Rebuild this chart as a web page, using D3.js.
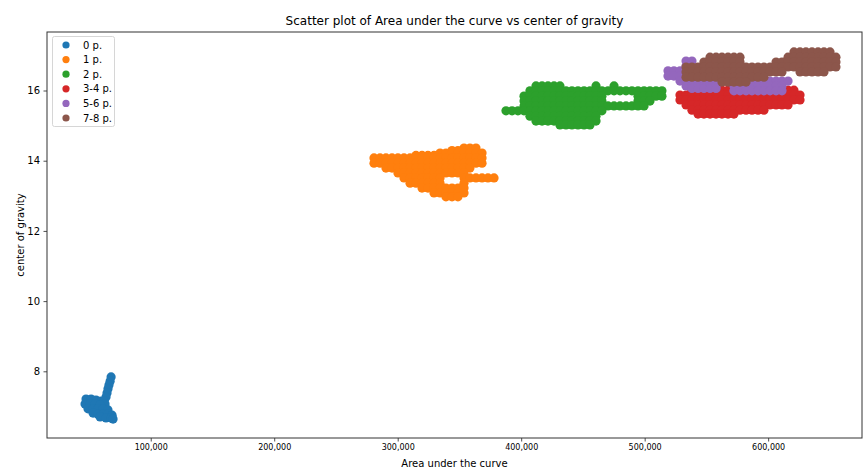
<!DOCTYPE html>
<html><head><meta charset="utf-8">
<script src="https://cdn.jsdelivr.net/npm/d3@7"></script>
<style>body{margin:0;background:#fff} text{font-family:"DejaVu Sans",sans-serif;fill:#000}</style>
</head><body><svg id="c" width="864" height="469"></svg>
<script>
const seriesNames = ["0 p.", "1 p.", "2 p.", "3-4 p.", "5-6 p.", "7-8 p."];
const seriesColors = ["#1f77b4", "#ff7f0e", "#2ca02c", "#d62728", "#9467bd", "#8c564b"];
const xTicks = [100000, 200000, 300000, 400000, 500000, 600000];
const yTicks = [8, 10, 12, 14, 16];

// each row: [center of gravity, [area under the curve values...]]
const p0 = [
  [7.84, [67900]], [7.72, [67100]], [7.61, [66200]], [7.50, [65400]], [7.38, [64600]], [7.27, [63800]],
  [7.21, [47600, 51700]], [7.18, [55700]], [7.15, [59800, 62200]],
  [7.07, [46800, 50900, 54900, 63000]], [7.04, [59000]],
  [6.93, [49200, 53300, 57300, 61400]], [6.90, [65400]],
  [6.81, [53300]], [6.78, [57300, 61400, 65400]], [6.75, [68700]],
  [6.70, [59000]], [6.67, [63800, 67900]], [6.64, [69500]]
];
const p1 = [
  [14.36, [353700, 358500, 363400]],
  [14.29, [344000, 348800]],
  [14.22, [334300, 339100, 344000, 348800, 353700, 358500, 363400, 368300]],
  [14.15, [314800, 319700, 324500, 329400]],
  [14.08, [280800, 285700, 290500, 295400, 300200, 305100, 310000, 314800, 319700, 324500, 329400, 334300, 339100, 344000, 348800, 353700, 358500, 363400, 368300]],
  [13.93, [280800, 285700, 290500, 295400, 300200, 305100, 310000, 314800, 319700, 324500, 329400, 334300, 339100, 344000, 348800, 353700, 358500, 363400, 368300]],
  [13.79, [290500, 295400, 300200, 305100, 310000, 314800, 319700, 324500, 329400, 334300, 339100, 344000, 348800, 353700, 358500]],
  [13.65, [300200, 305100, 310000, 314800, 319700, 324500, 329400, 334300, 339100, 344000, 348800, 353700]],
  [13.51, [305100, 310000, 314800, 319700, 324500, 329400, 334300, 353700, 358500, 363400, 368300, 373100, 378000]],
  [13.36, [310000, 314800, 319700, 324500, 329400, 334300, 353700]],
  [13.22, [319700, 324500, 329400, 334300, 339100, 344000, 348800, 353700]],
  [13.08, [329400, 334300, 339100, 344000, 348800, 353700]],
  [12.97, [339100, 344000, 348800]]
];
const p2 = [
  [16.13, [412000, 416900, 421700, 426600, 431400, 460600, 475200]],
  [15.99, [407100, 412000, 416900, 421700, 426600, 431400, 436300, 441100, 446000, 450900, 455700, 460600, 465400, 470300, 475200, 480000, 484900, 489700, 494600, 499500, 504300, 509200, 514000]],
  [15.84, [402300, 407100, 412000, 416900, 421700, 426600, 431400, 436300, 441100, 446000, 450900, 455700, 460600, 465400, 494600, 499500, 504300, 509200, 514000]],
  [15.70, [402300, 407100, 412000, 416900, 421700, 426600, 431400, 436300, 441100, 446000, 450900, 455700, 460600, 465400, 494600, 499500, 504300]],
  [15.56, [402300, 407100, 412000, 416900, 421700, 426600, 431400, 436300, 441100, 446000, 450900, 455700, 460600, 465400, 470300, 475200, 480000, 484900, 489700, 494600, 499500]],
  [15.42, [387700, 392600, 397400, 402300, 407100, 412000, 416900, 421700, 426600, 431400, 436300, 441100, 446000, 450900, 455700, 460600, 465400]],
  [15.27, [407100, 412000, 416900, 421700, 426600, 431400, 436300, 441100, 446000, 450900, 455700, 460600]],
  [15.13, [412000, 416900, 421700, 426600, 431400, 436300, 441100, 446000, 450900, 455700, 460600]],
  [15.02, [431400, 436300, 441100, 446000, 450900, 455700]]
];
const p34 = [
  [16.01, [538300, 543200, 548000, 552900, 557800, 562600, 567500, 601500, 606400, 611200, 616100, 620900]],
  [15.87, [528600, 533500, 538300, 543200, 548000, 552900, 557800, 562600, 567500, 572300, 577200, 582100, 586900, 591800, 596600, 601500, 606400, 611200, 616100, 620900, 625800]],
  [15.73, [528600, 533500, 538300, 543200, 548000, 552900, 557800, 562600, 567500, 572300, 577200, 582100, 586900, 591800, 596600, 601500, 606400, 611200, 616100, 620900, 625800]],
  [15.59, [533500, 538300, 543200, 548000, 552900, 557800, 562600, 567500, 572300, 577200, 582100, 586900, 591800, 596600, 601500, 606400, 611200, 616100]],
  [15.44, [538300, 543200, 548000, 552900, 557800, 562600, 567500, 572300, 577200, 582100, 586900, 591800, 596600]],
  [15.33, [543200, 548000, 552900, 557800, 562600, 567500, 572300]]
];
const p56 = [
  [16.84, [533500, 538300]],
  [16.70, [533500, 538300]],
  [16.56, [518900, 523700, 528600, 533500, 538300, 543200]],
  [16.41, [518900, 523700, 528600, 533500, 538300, 543200, 548000]],
  [16.27, [528600, 533500, 538300, 543200, 548000, 552900, 557800, 562600, 567500, 572300, 577200, 582100, 586900, 591800, 596600, 601500, 606400, 611200, 616100]],
  [16.13, [533500, 538300, 543200, 548000, 552900, 557800, 572300, 577200, 582100, 586900, 591800, 596600, 601500, 606400, 611200]],
  [16.06, [538300, 543200, 548000, 552900, 557800]],
  [15.99, [572300, 577200, 582100, 586900, 591800, 596600, 601500, 606400, 611200]]
];
const p78 = [
  [17.10, [620900, 625800, 630600, 635500, 640400, 645200, 650100]],
  [16.95, [552900, 557800, 562600, 567500, 572300, 577200, 616100, 620900, 625800, 630600, 635500, 640400, 645200, 650100, 654900]],
  [16.81, [548000, 552900, 557800, 562600, 567500, 572300, 577200, 606400, 611200, 616100, 620900, 625800, 630600, 635500, 640400, 645200, 650100, 654900]],
  [16.67, [533500, 538300, 543200, 548000, 552900, 557800, 562600, 567500, 572300, 577200, 582100, 586900, 591800, 596600, 601500, 606400, 611200, 616100, 620900, 625800, 630600, 635500, 640400, 645200, 650100, 654900]],
  [16.53, [533500, 538300, 543200, 548000, 552900, 557800, 562600, 567500, 572300, 577200, 582100, 586900, 591800, 596600, 601500, 606400, 611200, 625800, 630600, 635500, 640400, 645200]],
  [16.38, [533500, 538300, 543200, 548000, 552900, 557800, 562600, 567500, 572300, 577200, 582100, 586900, 591800, 596600]],
  [16.24, [562600, 567500, 572300, 577200, 582100]]
];
const seriesRows = [p0, p1, p2, p34, p56, p78];

const M = {left: 47, right: 862, top: 32, bottom: 438};
const svg = d3.select("#c");

const x = d3.scaleLinear().domain([16000, 676000]).range([M.left, M.right]);
const y = d3.scaleLinear().domain([6.10, 17.667]).range([M.bottom, M.top]);

// points
seriesRows.forEach((rows, i) => {
  const pts = [];
  rows.forEach(([cog, areas]) => areas.forEach(a => pts.push([a, cog])));
  svg.append("g").selectAll("circle").data(pts).join("circle")
    .attr("cx", d => x(d[0])).attr("cy", d => y(d[1])).attr("r", 4.6)
    .attr("fill", seriesColors[i]);
});

// axes
const xAxis = svg.append("g").attr("transform", `translate(0,${M.bottom})`)
  .call(d3.axisBottom(x).tickValues(xTicks).tickFormat(d3.format(",")).tickSize(3.5).tickPadding(2.5));
xAxis.select(".domain").remove();
xAxis.selectAll("text").attr("font-size", 8).attr("font-family", "DejaVu Sans");
xAxis.selectAll("line").attr("stroke", "#222").attr("stroke-width", 0.8);

const yAxis = svg.append("g").attr("transform", `translate(${M.left},0)`)
  .call(d3.axisLeft(y).tickValues(yTicks).tickSize(3.5).tickPadding(3.5));
yAxis.select(".domain").remove();
yAxis.selectAll("text").attr("font-size", 10).attr("font-family", "DejaVu Sans");
yAxis.selectAll("line").attr("stroke", "#222").attr("stroke-width", 0.8);

// spines
svg.append("rect").attr("x", M.left).attr("y", M.top)
  .attr("width", M.right - M.left).attr("height", M.bottom - M.top)
  .attr("fill", "none").attr("stroke", "#333").attr("stroke-width", 1);

// labels
svg.append("text").attr("x", (M.left + M.right) / 2).attr("y", 25)
  .attr("text-anchor", "middle").attr("font-size", 12)
  .text("Scatter plot of Area under the curve vs center of gravity");
svg.append("text").attr("x", (M.left + M.right) / 2).attr("y", 467)
  .attr("text-anchor", "middle").attr("font-size", 10).text("Area under the curve");
svg.append("text").attr("transform", `translate(23.5,${(M.top + M.bottom) / 2}) rotate(-90)`)
  .attr("text-anchor", "middle").attr("font-size", 10).text("center of gravity");

// legend
const lg = svg.append("g");
lg.append("rect").attr("x", 52.5).attr("y", 36.5).attr("width", 62).attr("height", 90)
  .attr("rx", 2).attr("fill", "#fff").attr("fill-opacity", 0.8)
  .attr("stroke", "#d6d6d6").attr("stroke-width", 1);
seriesNames.forEach((nm, i) => {
  const cy = 45 + i * 14.6;
  lg.append("circle").attr("cx", 66).attr("cy", cy).attr("r", 3.6).attr("fill", seriesColors[i]);
  lg.append("text").attr("x", 83).attr("y", cy).attr("dy", "0.35em")
    .attr("font-size", 10).text(nm);
});
</script></body></html>
